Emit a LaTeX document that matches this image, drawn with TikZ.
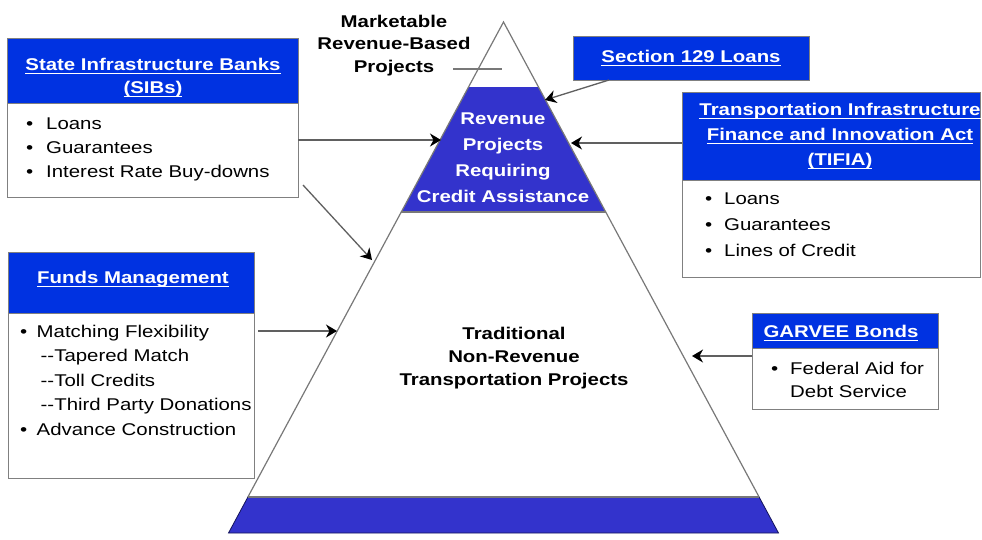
\documentclass[tikz,border=0pt]{standalone}
\usepackage{fontspec}
\setmainfont{Liberation Sans}[FakeStretch=1.2]
\usetikzlibrary{arrows.meta}
\newcommand{\ulink}[1]{\setbox0\hbox{#1}\rlap{\rule[-4pt]{\wd0}{1pt}}\box0}
\newcommand{\itm}[2][20pt]{\makebox[#1][l]{\textbullet}#2}
\begin{document}
\begin{tikzpicture}[x=1pt,y=-1pt,
  hdr/.style={draw=kBorder,fill=kHead,line width=1pt,anchor=north west,inner sep=0pt,outer sep=0pt},
  body/.style={draw=kBorder,fill=white,line width=1pt,anchor=north west,inner sep=0pt,outer sep=0pt},
  hdrtext/.style={anchor=north,inner sep=0pt,align=center,text=white,font=\fontsize{17}{#1}\selectfont\bfseries},
  hdrtext/.default=24,
  listtext/.style={anchor=north west,inner sep=0pt,align=left,font=\fontsize{17}{#1}\selectfont},
  listtext/.default=24.5,
  pyrtext/.style={anchor=north,inner sep=0pt,align=center,font=\fontsize{17}{#1}\selectfont\bfseries},
  conn/.style={draw=kLine,line width=1.3pt,-{Stealth[length=11pt,width=13pt,inset=3.5pt,color=black]}}]
  % colors
  \definecolor{kHead}{RGB}{0,50,225}
  \definecolor{kPyr}{RGB}{51,51,204}
  \definecolor{kNavy}{RGB}{20,20,90}
  \definecolor{kBorder}{RGB}{128,128,128}
  \definecolor{kLine}{RGB}{96,96,96}
  \definecolor{kEdge}{RGB}{120,120,120}
  \path[fill=white,use as bounding box] (0,0) rectangle (982,539);
  % pyramid
  \coordinate (apex) at (503.5,22);
  \coordinate (t1L) at (468.5,87);
  \coordinate (t1R) at (538.5,87);
  \coordinate (t2L) at (401.3,212);
  \coordinate (t2R) at (605.7,212);
  \coordinate (t3L) at (247.9,497);
  \coordinate (t3R) at (759.1,497);
  \coordinate (t4L) at (228.5,533);
  \coordinate (t4R) at (778.5,533);
  \fill[kPyr] (t1L) -- (t1R) -- (t2R) -- (t2L) -- cycle;
  \draw[draw=kNavy,fill=kPyr,line width=0.8pt] (t3L) -- (t3R) -- (t4R) -- (t4L) -- cycle;
  \draw[kEdge,line width=1.2pt] (t3L) -- (apex) -- (t3R);
  \draw[kEdge,line width=1.5pt] (t2L) -- (t2R);
  \draw[kEdge,line width=1.5pt] (t3L) -- (t3R);
  % pyramid labels
  \node[pyrtext=22.5] (mkt) at (394,14.7) {Marketable\\Revenue-Based\\Projects};
  \coordinate (mktA) at (453,69);
  \coordinate (mktB) at (502,69);
  \draw[kEdge,line width=1.2pt] (mktA) -- (mktB);
  \node[pyrtext=26,text=white] (revText) at (503,112.7) {Revenue\\Projects\\Requiring\\Credit Assistance};
  \node[pyrtext=23] (tradText) at (514,326.5) {Traditional\\Non-Revenue\\Transportation Projects};
  % boxes
  \node[hdr,minimum width=290.5,minimum height=65] (sibHead) at (7.5,38) {};
  \node[body,minimum width=290.5,minimum height=94] (sibBody) at (7.5,103) {};
  \node[hdrtext=23] (sibTitle) at (153,57.7) {\ulink{State Infrastructure Banks}\\\ulink{(SIBs)}};
  \node[listtext=24] (sibList) at (26,117.7) {\itm{Loans}\\\itm{Guarantees}\\\itm{Interest Rate Buy-downs}};
  \node[hdr,minimum width=236,minimum height=44] (sec) at (573,36) {};
  \node[hdrtext] (secTitle) at (691,49.7) {\ulink{Section 129 Loans}};
  \node[hdr,minimum width=298,minimum height=88] (tifiaHead) at (682,92) {};
  \node[body,minimum width=298,minimum height=97] (tifiaBody) at (682,180) {};
  \node[hdrtext=25] (tifiaTitle) at (840,102.7) {\ulink{Transportation Infrastructure}\\\ulink{Finance and Innovation Act}\\\ulink{(TIFIA)}};
  \node[listtext=26] (tifiaList) at (705,192.7) {\itm[19pt]{Loans}\\\itm[19pt]{Guarantees}\\\itm[19pt]{Lines of Credit}};
  \node[hdr,minimum width=246,minimum height=61] (fundsHead) at (8,252) {};
  \node[body,minimum width=246,minimum height=165] (fundsBody) at (8,313) {};
  \node[hdrtext] (fundsTitle) at (133,270.7) {\ulink{Funds Management}};
  \node[listtext] (fundsList) at (20,324.7) {\itm[16.5pt]{Matching Flexibility}\\
    \hspace*{20.5pt}-{}-Tapered Match\\\hspace*{20.5pt}-{}-Toll Credits\\
    \hspace*{20.5pt}-{}-Third Party Donations\\\itm[16.5pt]{Advance Construction}};
  \node[hdr,minimum width=186,minimum height=35] (garveeHead) at (752,313) {};
  \node[body,minimum width=186,minimum height=61] (garveeBody) at (752,348) {};
  \node[hdrtext] (garveeTitle) at (841,324.7) {\ulink{GARVEE Bonds}};
  \node[listtext=23] (garveeList) at (771,361.7) {\itm[19pt]{Federal Aid for}\\\hspace*{19pt}Debt Service};
  % arrows
  \coordinate (tipSib) at (441,140);
  \coordinate (tipSibD) at (372,260);
  \coordinate (tipSec) at (545,100);
  \coordinate (tipTifia) at (571,143);
  \coordinate (tipFunds) at (337,331);
  \coordinate (tipGarvee) at (692,356);
  \draw[conn] (sibBody.east |- tipSib) -- (tipSib);
  \draw[conn] (sibBody.south east) ++(5,-12) -- (tipSibD);
  \draw[conn] (sec.south west) ++(36,0) -- (tipSec);
  \draw[conn] (tifiaHead.west |- tipTifia) -- (tipTifia);
  \draw[conn] (fundsBody.east |- tipFunds) ++(4,0) -- (tipFunds);
  \draw[conn] (garveeBody.west |- tipGarvee) -- (tipGarvee);
\end{tikzpicture}
\end{document}
